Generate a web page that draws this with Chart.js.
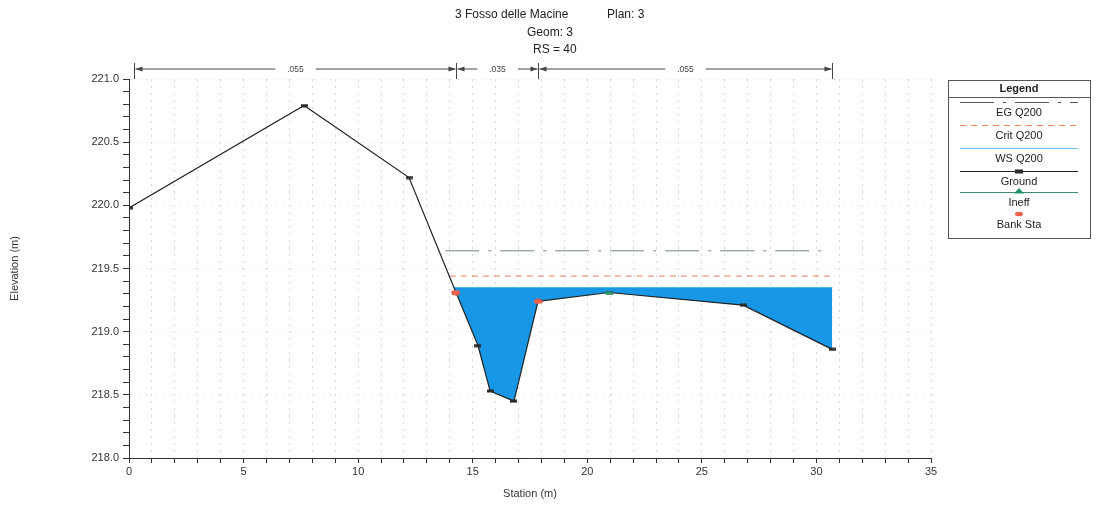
<!DOCTYPE html>
<html>
<head>
<meta charset="utf-8">
<style>
  html, body { margin: 0; padding: 0; background: #fff; }
  #wrap { width: 1096px; height: 507px; }
</style>
<script src="https://cdn.jsdelivr.net/npm/chart.js"></script>
</head>
<body>
<div id="wrap"><canvas id="xsChart" width="1096" height="507"></canvas></div>
<script>
// cross section
const groundStation = [0, 7.64, 12.22, 14.27, 15.23, 15.76, 16.8, 17.85, 20.95, 26.8, 30.69];
const groundElev = [219.98, 220.79, 220.22, 219.31, 218.89, 218.53, 218.45, 219.24, 219.31, 219.21, 218.86];
const bankStation = [14.27, 17.85];
const bankElev = [219.31, 219.24];
const ineffStation = [20.95];
const ineffElev = [219.31];
const egStation = [13.8, 30.2];
const egElev = [219.64, 219.64];
const critStation = [14.0, 30.75];
const critElev = [219.44, 219.44];
const wsStation = [14.18, 30.69];
const wsElev = [219.35, 219.35];
const nStations = [0.2, 14.27, 17.85, 30.69];
const nValues = ['.055', '.035', '.055'];
const titleLines = ['3 Fosso delle Macine', 'Plan: 3', 'Geom: 3', 'RS = 40'];

const FONT = '"Liberation Sans", Arial, sans-serif';
const TXT = '#333';

const pts = (xs, ys) => xs.map((x, i) => ({ x: x, y: ys[i] }));

// water polygon: WS left edge then ground points under the water surface
const waterPts = [{ x: wsStation[0], y: wsElev[0] }]
  .concat(pts(groundStation, groundElev).filter(p => p.x >= bankStation[0]));

const isMult = (v, step) => Math.abs(v / step - Math.round(v / step)) < 1e-6;

// little marker images
function markerImg(w, h, draw) {
  const c = document.createElement('canvas');
  c.width = w; c.height = h;
  draw(c.getContext('2d'), w, h);
  return c;
}
const groundMark = markerImg(7, 4, (g, w, h) => { g.fillStyle = '#2a2a2a'; g.fillRect(0, 0.5, w, 3); });
const bankMark = markerImg(9, 6, (g, w, h) => {
  g.fillStyle = '#f2604c';
  g.beginPath(); g.ellipse(w / 2, h / 2, 4.3, 2.6, 0, 0, Math.PI * 2); g.fill();
});
const ineffMark = markerImg(9, 4, (g, w, h) => {
  g.fillStyle = '#25a86e';
  g.beginPath(); g.moveTo(0, 3.5); g.lineTo(2, 1); g.lineTo(7, 1); g.lineTo(9, 3.5); g.closePath(); g.fill();
});

const titlePlugin = {
  id: 'rasTitle',
  afterDraw(chart) {
    const ctx = chart.ctx;
    ctx.save();
    ctx.fillStyle = '#222';
    ctx.font = '12px ' + FONT;
    ctx.textBaseline = 'middle';
    ctx.textAlign = 'left';
    ctx.fillText(titleLines[0], 455, 15);
    ctx.fillText(titleLines[1], 607, 15);
    ctx.fillText(titleLines[2], 527, 33);
    ctx.fillText(titleLines[3], 533, 50);
    ctx.restore();
  }
};

const manningPlugin = {
  id: 'manning',
  afterDraw(chart) {
    const ctx = chart.ctx;
    const xs = chart.scales.x;
    const y = 69;
    ctx.save();
    ctx.strokeStyle = '#444';
    ctx.fillStyle = '#444';
    ctx.lineWidth = 1;
    ctx.font = '8.5px ' + FONT;
    ctx.textAlign = 'center';
    ctx.textBaseline = 'middle';
    const px = nStations.map(s => Math.round(xs.getPixelForValue(s)) + 0.5);
    px.forEach(p => {
      ctx.beginPath();
      ctx.moveTo(p, y - 6);
      ctx.lineTo(p, y + 10);
      ctx.stroke();
    });
    for (let i = 0; i < nValues.length; i++) {
      const a = px[i], b = px[i + 1];
      const mid = (a + b) / 2;
      const w = ctx.measureText(nValues[i]).width;
      const g = w / 2 + 12;
      ctx.beginPath();
      ctx.moveTo(a + 1, y); ctx.lineTo(mid - g, y);
      ctx.moveTo(mid + g, y); ctx.lineTo(b - 1, y);
      ctx.stroke();
      // arrow heads
      ctx.beginPath();
      ctx.moveTo(a + 1, y); ctx.lineTo(a + 8, y - 2.5); ctx.lineTo(a + 8, y + 2.5); ctx.closePath();
      ctx.moveTo(b - 1, y); ctx.lineTo(b - 8, y - 2.5); ctx.lineTo(b - 8, y + 2.5); ctx.closePath();
      ctx.fill();
      ctx.fillText(nValues[i], mid, y + 1);
    }
    ctx.restore();
  }
};

const legendPlugin = {
  id: 'rasLegend',
  afterDraw(chart) {
    const ctx = chart.ctx;
    const L = 948, T = 80, R = 1090, B = 238;
    const cx = (L + R) / 2;
    ctx.save();
    ctx.strokeStyle = '#555';
    ctx.lineWidth = 1;
    ctx.strokeRect(L + 0.5, T + 0.5, R - L, B - T);
    ctx.beginPath();
    ctx.moveTo(L, 97.5); ctx.lineTo(R, 97.5);
    ctx.stroke();
    ctx.fillStyle = '#222';
    ctx.textAlign = 'center';
    ctx.textBaseline = 'middle';
    ctx.font = 'bold 11px ' + FONT;
    ctx.fillText('Legend', cx, 89);
    ctx.font = '11px ' + FONT;
    const entries = chart.data.datasets.filter(d => d.legendY);
    entries.forEach(d => {
      const ly = d.legendY;
      if (d.legendLine) {
        ctx.save();
        ctx.strokeStyle = d.legendLine;
        ctx.lineWidth = 1;
        ctx.setLineDash(d.borderDash || []);
        ctx.beginPath();
        ctx.moveTo(L + 12, ly + 0.5); ctx.lineTo(R - 12, ly + 0.5);
        ctx.stroke();
        ctx.restore();
      }
      if (d.legendMarker === 'rect') {
        ctx.fillStyle = '#2a2a2a';
        ctx.fillRect(cx - 4, ly - 1.5, 8, 4);
      } else if (d.legendMarker === 'triangle') {
        ctx.fillStyle = '#1f8f66';
        ctx.beginPath();
        ctx.moveTo(cx, ly - 4); ctx.lineTo(cx + 5, ly + 1.5); ctx.lineTo(cx - 5, ly + 1.5); ctx.closePath();
        ctx.fill();
      } else if (d.legendMarker === 'ellipse') {
        ctx.fillStyle = '#f2604c';
        ctx.beginPath();
        ctx.ellipse(cx, ly, 4, 2.2, 0, 0, Math.PI * 2);
        ctx.fill();
      }
      ctx.fillStyle = '#222';
      ctx.fillText(d.label, cx, ly + 11);
    });
    ctx.restore();
  }
};

const gridFaint = 'rgba(165,165,165,0.45)';

new Chart(document.getElementById('xsChart').getContext('2d'), {
  type: 'scatter',
  data: {
    datasets: [
      {
        label: 'Bank Sta',
        data: pts(bankStation, bankElev),
        showLine: false,
        pointStyle: bankMark,
        pointRadius: 4,
        legendY: 214, legendMarker: 'ellipse'
      },
      {
        label: 'Ineff',
        data: pts(ineffStation, ineffElev),
        showLine: false,
        pointStyle: ineffMark,
        pointRadius: 4,
        legendY: 192, legendMarker: 'triangle', legendLine: '#3a8a7c'
      },
      {
        label: 'Ground',
        data: pts(groundStation, groundElev),
        showLine: true,
        borderColor: '#222',
        borderWidth: 1.2,
        pointStyle: groundMark,
        pointRadius: 3,
        legendY: 171, legendMarker: 'rect', legendLine: '#222'
      },
      {
        label: 'WS Q200',
        data: pts(wsStation, wsElev),
        showLine: true,
        borderColor: '#4fb4ea',
        borderWidth: 1,
        pointRadius: 0,
        legendY: 148, legendLine: '#6cc0ea'
      },
      {
        label: 'Crit Q200',
        data: pts(critStation, critElev),
        showLine: true,
        borderColor: '#ee7a5e',
        borderWidth: 1,
        borderDash: [6, 5],
        pointRadius: 0,
        legendY: 125, legendLine: '#f08a5a'
      },
      {
        label: 'EG Q200',
        data: pts(egStation, egElev),
        showLine: true,
        borderColor: '#6f8784',
        borderWidth: 1,
        borderDash: [34, 9, 3, 9],
        pointRadius: 0,
        legendY: 102, legendLine: '#555'
      },
      {
        label: 'water',
        data: waterPts,
        showLine: true,
        borderWidth: 0,
        borderColor: 'rgba(0,0,0,0)',
        backgroundColor: '#1797e6',
        pointRadius: 0,
        fill: { target: { value: wsElev[0] } }
      }
    ]
  },
  options: {
    responsive: false,
    animation: false,
    layout: { padding: { top: 79, right: 165, left: 0, bottom: 0 } },
    plugins: {
      legend: { display: false },
      tooltip: { enabled: false },
      title: { display: false },
      filler: { propagate: false }
    },
    scales: {
      x: {
        type: 'linear',
        min: 0, max: 35,
        afterFit(s) { s.height = 49; },
        border: { display: true, color: '#333', width: 1, dash: [2, 5] },
        grid: {
          color: gridFaint,
          tickColor: '#333',
          tickLength: 5,
          lineWidth: 1
        },
        ticks: {
          stepSize: 1,
          autoSkip: false,
          maxRotation: 0,
          color: TXT,
          font: { family: FONT, size: 11 },
          padding: 2,
          callback: v => (isMult(v, 5) ? String(v) : '')
        },
        title: {
          display: true,
          text: 'Station (m)',
          color: TXT,
          font: { family: FONT, size: 11 },
          padding: { top: 0, bottom: 6 }
        }
      },
      y: {
        type: 'linear',
        min: 218, max: 221,
        afterFit(s) { s.width = 129; },
        border: { display: true, color: '#333', width: 1, dash: [2, 6] },
        grid: {
          color: ctx => (ctx.tick && isMult(ctx.tick.value, 0.25) ? 'rgba(175,175,175,0.3)' : 'rgba(0,0,0,0)'),
          tickColor: '#333',
          tickLength: 6,
          lineWidth: 1
        },
        ticks: {
          stepSize: 0.1,
          autoSkip: false,
          color: TXT,
          font: { family: FONT, size: 11 },
          padding: 4,
          callback: v => (isMult(v, 0.5) ? v.toFixed(1) : '')
        },
        title: {
          display: true,
          text: 'Elevation (m)',
          color: TXT,
          font: { family: FONT, size: 11 },
          padding: { top: 8, bottom: 0 }
        }
      }
    }
  },
  plugins: [titlePlugin, manningPlugin, legendPlugin]
});
</script>
</body>
</html>
